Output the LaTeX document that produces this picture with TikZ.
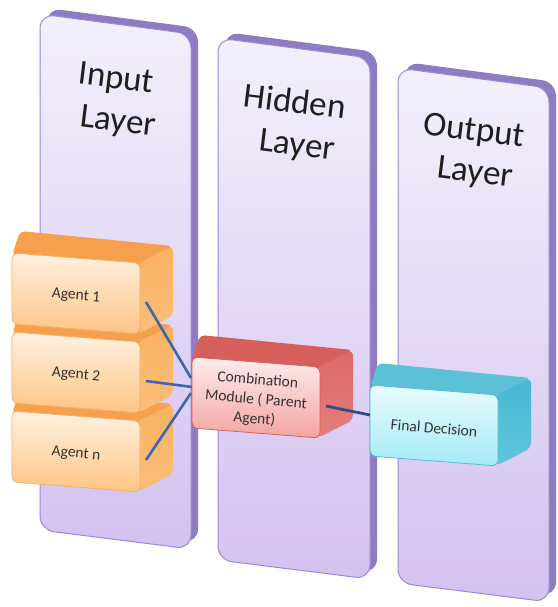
\documentclass[tikz,border=0pt]{standalone}
\usepackage{fontspec}
\setmainfont{Carlito}
\definecolor{bandpurple}{HTML}{8E7CC3}
\definecolor{panelEdge}{HTML}{9B8AD0}
\definecolor{panelTop}{HTML}{F3F0FC}
\definecolor{panelMid}{HTML}{E4DAF6}
\definecolor{panelBot}{HTML}{D3C2EF}
\definecolor{agFrontTop}{HTML}{FFF2E2}
\definecolor{agFrontBot}{HTML}{FEC484}
\definecolor{agTop}{HTML}{F6A04E}
\definecolor{agSide}{HTML}{F9B262}
\definecolor{agEdge}{HTML}{F4B068}
\definecolor{cmFrontTop}{HTML}{FDEDEC}
\definecolor{cmFrontBot}{HTML}{F4A4A2}
\definecolor{cmTop}{HTML}{D65F5C}
\definecolor{cmSide}{HTML}{DD6866}
\definecolor{cmEdge}{HTML}{D2605D}
\definecolor{fdFrontTop}{HTML}{E8FCFF}
\definecolor{fdFrontBot}{HTML}{A5EAF5}
\definecolor{fdTop}{HTML}{5CC1D6}
\definecolor{fdSide}{HTML}{46B9D5}
\definecolor{fdEdge}{HTML}{52BDD4}
\definecolor{linkblue}{HTML}{3F67AE}
\definecolor{linkdark}{HTML}{2E4C86}

% one layer slab: front face with a darker rim on top and right
\newcommand\layerpanel[4]{% #1 x, #2 y (top left of front face), #3 width, #4 left height
  \begin{scope}[shift={(#1,#2)}]
    \fill[bandpurple, rounded corners=14pt]
      (7,-6) -- (#3+7,14) -- (#3+7,#4+13) -- (7,#4-6) -- cycle;
    \shade[top color=panelTop, middle color=panelMid, bottom color=panelBot, rounded corners=14pt]
      (0,0) -- (#3,20) -- (#3,#4+19) -- (0,#4) -- cycle;
    \draw[panelEdge, line width=1pt, rounded corners=14pt]
      (0,0) -- (#3,20) -- (#3,#4+19) -- (0,#4) -- cycle;
  \end{scope}}

% a bevelled 3-D block seen from above right
\newcommand\solidbox[8]{% #1 name, #2 x, #3 y, #4/#5 front colours, #6 top, #7 side, #8 edge
  \begin{scope}[shift={(#2,#3)}]
    \fill[#6, rounded corners=5pt] (0,3) -- (8,-22) -- (161,-7) -- (128,13) -- cycle;
    \shade[top color=#7, bottom color=#7!85!white, rounded corners=5pt]
      (126,10) -- (161,-7) -- (161,63) -- (126,81) -- cycle;
    \shade[top color=#4, bottom color=#5, rounded corners=6pt]
      (0,0) -- (128,10) -- (128,81) -- (0,71) -- cycle;
    \draw[#8, line width=0.8pt, rounded corners=6pt]
      (0,0) -- (128,10) -- (128,81) -- (0,71) -- cycle;
    \coordinate (#1-c) at (64,43);
    \coordinate (#1-out) at (134,49);
    \coordinate (#1-in) at (0,30);
    \coordinate (#1-inA) at (-1,21);
    \coordinate (#1-inB) at (-1,36);
  \end{scope}}

\tikzset{
  layertext/.style={font=\fontsize{35}{42}\selectfont, text=black!88, rotate=-7, inner sep=0pt},
  boxtext/.style={font=\fontsize{15.5}{19.5}\selectfont, text=black!80, align=center, rotate=-5, inner sep=0pt},
  link/.style={line width=2.6pt, draw=linkblue},
  darklink/.style={line width=2.8pt, draw=linkdark}
}

\begin{document}
\begin{tikzpicture}[x=1pt,y=-1pt]
\useasboundingbox (0,0) rectangle (557,607);
\fill[white] (0,0) rectangle (557,607);

% the three layers
\layerpanel{40}{14}{151}{516}
\layerpanel{218}{38}{152}{522}
\layerpanel{398}{68}{151}{515}

\node[layertext] (inlabel) at (116,80) {Input};
\node[layertext] (inlabelb) at (118,123) {Layer};
\node[layertext] (hidlabel) at (295,101) {Hidden};
\node[layertext] (hidlabelb) at (297,147) {Layer};
\node[layertext] (outlabel) at (474,132) {Output};
\node[layertext] (outlabelb) at (475,174) {Layer};

% agent blocks, lowest first
\solidbox{an}{12}{411}{agFrontTop}{agFrontBot}{agTop}{agSide}{agEdge}
\solidbox{a2}{12}{332}{agFrontTop}{agFrontBot}{agTop}{agSide}{agEdge}
\solidbox{a1}{12}{253}{agFrontTop}{agFrontBot}{agTop}{agSide}{agEdge}

% combination module and final decision
\solidbox{cm}{192}{357}{cmFrontTop}{cmFrontBot}{cmTop}{cmSide}{cmEdge}
\solidbox{fd}{370}{385}{fdFrontTop}{fdFrontBot}{fdTop}{fdSide}{fdEdge}

\node[boxtext] (a1t) at (a1-c) {Agent 1};
\node[boxtext] (a2t) at (a2-c) {Agent 2};
\node[boxtext] (ant) at (an-c) {Agent n};
\node[boxtext] (cmt) at (cm-c) {Combination\\Module ( Parent\\Agent)};
\node[boxtext] (fdt) at (fd-c) {Final Decision};

% connectors
\draw[link] (a1-out) -- (cm-inA);
\draw[link] (a2-out) -- (cm-in);
\draw[link] (an-out) -- (cm-inB);
\draw[darklink] (cm-out) -- (fd-in);
\end{tikzpicture}
\end{document}
